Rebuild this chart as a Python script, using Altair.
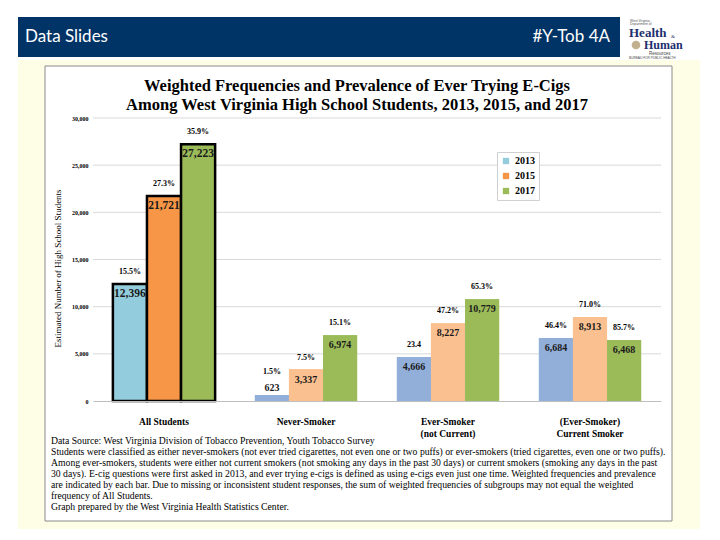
import altair as alt
import pandas as pd

# ---------------- data ----------------
groups = ["All Students", "Never-Smoker", "Ever-Smoker|(not Current)", "(Ever-Smoker)|Current Smoker"]
years = ["2013", "2015", "2017"]
counts_2013 = [12396, 623, 4666, 6684]
counts_2015 = [21721, 3337, 8227, 8913]
counts_2017 = [27223, 6974, 10779, 6468]
pct_2013 = ["15.5%", "1.5%", "23.4", "46.4%"]
pct_2015 = ["27.3%", "7.5%", "47.2%", "71.0%"]
pct_2017 = ["35.9%", "15.1%", "65.3%", "85.7%"]
y_ticks = [0, 5000, 10000, 15000, 20000, 25000, 30000]
grid_vals = [5000, 10000, 15000, 20000, 25000, 30000]

title_lines = [
    "Weighted Frequencies and Prevalence of Ever Trying E-Cigs",
    "Among West Virginia High School Students, 2013, 2015, and 2017",
]
footnote_lines = [
    "Data Source: West Virginia  Division of Tobacco Prevention, Youth Tobacco Survey",
    "Students were classified as either never-smokers (not ever tried cigarettes, not even one or two puffs) or ever-smokers (tried cigarettes, even one or two puffs).",
    "Among ever-smokers, students were either not current smokers (not smoking any days in the past 30 days) or current smokers (smoking any days in the past",
    "30 days). E-cig questions were first asked in 2013, and ever trying e-cigs is defined as using e-cigs even just one time. Weighted frequencies and prevalence",
    "are indicated by each bar. Due to missing or inconsistent student responses, the sum of weighted frequencies of subgroups may not equal the weighted",
    "frequency of All Students.",
    "Graph prepared by the West Virginia  Health Statistics Center.",
]
header_left = "Data Slides"
header_right = "#Y-Tob 4A"

rows = []
for yr, cs, ps in [("2013", counts_2013, pct_2013), ("2015", counts_2015, pct_2015), ("2017", counts_2017, pct_2017)]:
    for g, c, p in zip(groups, cs, ps):
        rows.append({"group": g, "year": yr, "count": c, "pct": p})
df = pd.DataFrame(rows)
grid_df = pd.DataFrame({"count": grid_vals})
dummy = pd.DataFrame({"k": [0]})

SERIF = "Liberation Serif"

# ---------------- encodings ----------------
x_axis = alt.Axis(
    title=None, labelExpr="split(datum.label, '|')", labelAngle=0,
    labelFont=SERIF, labelFontWeight="bold", labelFontSize=9.5, labelColor="#000",
    labelBaseline="middle", labelPadding=20, labelLineHeight=12,
    ticks=False, tickSize=0, domain=True, domainColor="#bfbfbf", domainWidth=1, zindex=1,
)
y_axis = alt.Axis(
    title="Estimated Number of High School Students", values=y_ticks, format=",.0f",
    grid=False, domain=False, ticks=False, tickSize=0, labelPadding=5,
    labelFont=SERIF, labelFontSize=6, labelFontWeight="bold", labelColor="#000",
    titleFont=SERIF, titleFontSize=9, titleFontWeight="normal", titleColor="#000",
    titleX=-31, titleY=150, titleAlign="center", zindex=1,
)
x_enc = alt.X("group:N", sort=groups, scale=alt.Scale(paddingInner=0.28, paddingOuter=0.14), axis=x_axis)
xo_enc = alt.XOffset("year:N", sort=years)
y_scale = alt.Scale(domain=[0, 30000], nice=False)
y_enc = alt.Y("count:Q", scale=y_scale, axis=y_axis)

# ---------------- decorations ----------------
base_dec = alt.Chart(dummy)
yellow = base_dec.mark_rect(fill="#FEFDE6").encode(
    x=alt.value(-75), x2=alt.value(607), y=alt.value(-58), y2=alt.value(412))
white_box = base_dec.mark_rect(fill="white", stroke="#8a8a8a", strokeWidth=1).encode(
    x=alt.value(-48), x2=alt.value(579), y=alt.value(-52), y2=alt.value(403))
header = base_dec.mark_rect(fill="#003366").encode(
    x=alt.value(-75), x2=alt.value(527), y=alt.value(-101), y2=alt.value(-61))
head_l = base_dec.mark_text(align="left", baseline="middle", font="Lato", fontSize=17, color="white").encode(
    x=alt.value(-68), y=alt.value(-81), text=alt.value(header_left))
head_r = base_dec.mark_text(align="right", baseline="middle", font="Lato", fontSize=17, color="white").encode(
    x=alt.value(517), y=alt.value(-81), text=alt.value(header_right))

logo_small1 = base_dec.mark_text(align="left", baseline="top", font="Liberation Sans", fontSize=3.4,
                                 lineHeight=3.8, color="#555").encode(
    x=alt.value(537), y=alt.value(-99.5), text=alt.value(["West Virginia", "Department of"]))
logo_health = base_dec.mark_text(align="left", baseline="middle", font=SERIF, fontWeight="bold", fontSize=13, color="#1c2f6e").encode(
    x=alt.value(536), y=alt.value(-85), text=alt.value("Health"))
logo_amp = base_dec.mark_text(align="left", baseline="middle", font=SERIF, fontSize=5, color="#1c2f6e").encode(
    x=alt.value(578), y=alt.value(-82), text=alt.value("&"))
logo_seal = base_dec.mark_point(filled=True, shape="circle", size=75, color="#a89060").encode(
    x=alt.value(543), y=alt.value(-73))
logo_human = base_dec.mark_text(align="left", baseline="middle", font=SERIF, fontWeight="bold", fontSize=12, color="#1c2f6e").encode(
    x=alt.value(551), y=alt.value(-73), text=alt.value("Human"))
logo_res = base_dec.mark_text(align="left", baseline="middle", font="Liberation Sans", fontSize=4.5, color="#444").encode(
    x=alt.value(556), y=alt.value(-64.5), text=alt.value("Resources"))
logo_bureau = base_dec.mark_text(align="left", baseline="middle", font="Liberation Sans", fontSize=3.2, color="#444").encode(
    x=alt.value(536), y=alt.value(-60), text=alt.value("BUREAU FOR PUBLIC HEALTH"))

title = base_dec.mark_text(align="center", baseline="top", font=SERIF, fontWeight="bold", fontSize=16.5,
                           color="#000", lineHeight=19).encode(
    x=alt.value(264), y=alt.value(-40), text=alt.value(title_lines))
foot = base_dec.mark_text(align="left", baseline="top", font=SERIF, fontSize=9.7, color="#000", lineHeight=11).encode(
    x=alt.value(-42), y=alt.value(318), text=alt.value(footnote_lines))

# ---------------- chart layers ----------------
grid = alt.Chart(grid_df).mark_rule(color="#d9d9d9", strokeWidth=1).encode(y=y_enc)

base = alt.Chart(df)
bars_all = base.mark_bar(stroke="black", strokeJoin="miter").encode(
    x=x_enc, xOffset=xo_enc, y=y_enc,
    color=alt.Color("year:N", sort=years,
                    scale=alt.Scale(domain=years, range=["#93CDDD", "#F79646", "#9BBB59"]),
                    legend=alt.Legend(title=None, orient="none", legendX=404, legendY=34, direction="vertical",
                                      symbolType="square", symbolSize=40, symbolStrokeWidth=0,
                                      labelFont=SERIF, labelFontWeight="bold", labelFontSize=10, labelColor="#000",
                                      strokeColor="#d0d0d0", fillColor="white", padding=4, rowPadding=5,
                                      zindex=1)),
    strokeWidth=alt.condition("datum.group == 'All Students'", alt.value(2.5), alt.value(0)),
)
bars_sub = base.transform_filter("datum.group != 'All Students'").mark_bar().encode(
    x=x_enc, xOffset=xo_enc, y=y_enc,
    color=alt.Color("year:N", sort=years,
                    scale=alt.Scale(domain=years, range=["#92AFDA", "#FAC090", "#9BBB59"]),
                    legend=None),
)

val_big = base.transform_filter("datum.count >= 1500").mark_text(
    baseline="middle", dy=10, font=SERIF, fontWeight="bold", color="#1a1a1a").encode(
    x=x_enc, xOffset=xo_enc, y=y_enc, text=alt.Text("count:Q", format=",.0f"),
    size=alt.condition("datum.group == 'All Students'", alt.value(11.5), alt.value(10)))
val_small = base.transform_filter("datum.count < 1500").mark_text(
    baseline="middle", dy=-7, font=SERIF, fontWeight="bold", fontSize=10, color="#1a1a1a").encode(
    x=x_enc, xOffset=xo_enc, y=y_enc, text=alt.Text("count:Q", format=",.0f"))
pct_big = base.transform_filter("datum.count >= 1500").mark_text(
    baseline="middle", dy=-12, font=SERIF, fontWeight="bold", fontSize=8, color="#000").encode(
    x=x_enc, xOffset=xo_enc, y=y_enc, text="pct:N")
pct_small = base.transform_filter("datum.count < 1500").mark_text(
    baseline="middle", dy=-23, font=SERIF, fontWeight="bold", fontSize=8, color="#000").encode(
    x=x_enc, xOffset=xo_enc, y=y_enc, text="pct:N")

chart = alt.layer(
    yellow, white_box, header, head_l, head_r,
    logo_small1, logo_health, logo_amp, logo_seal, logo_human, logo_res, logo_bureau,
    title, foot,
    grid, bars_all, bars_sub, val_big, val_small, pct_big, pct_small,
).resolve_scale(color="independent").properties(
    width=568, height=283,
    padding={"left": 85, "top": 110, "right": 51, "bottom": 128},
    autosize=alt.AutoSizeParams(type="none"),
    background="white",
).configure_view(strokeWidth=0)

chart.save("out.html", embed_options={"renderer": "svg", "actions": False})
